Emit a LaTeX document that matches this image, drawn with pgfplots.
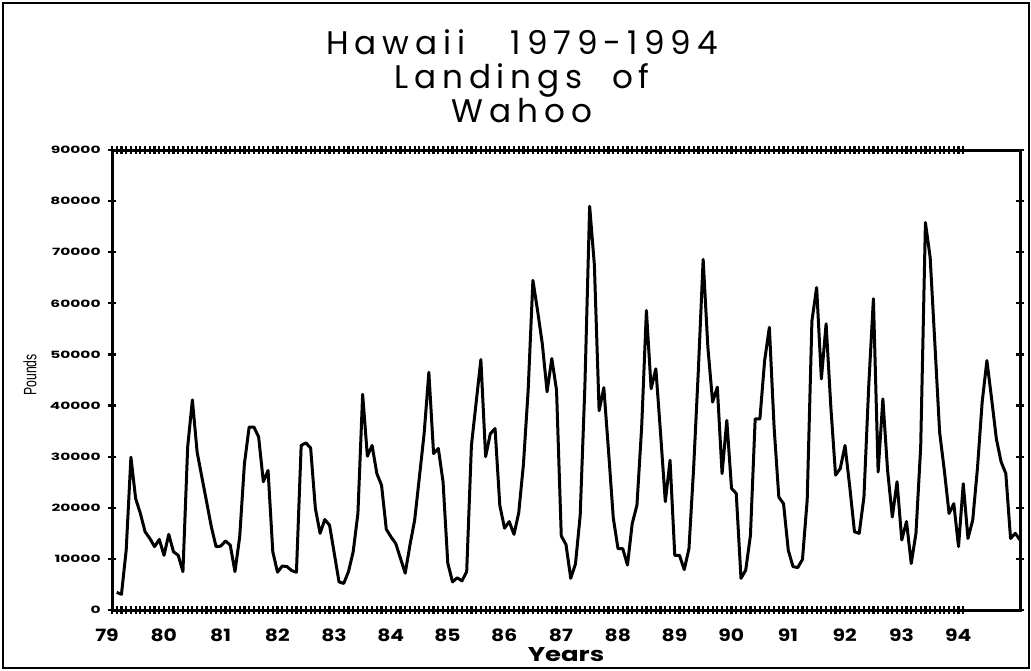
\documentclass[border=0pt]{standalone}
\usepackage{fontspec}
\setmainfont{Poppins}
\newfontfamily\labfont{Liberation Sans}
\newfontfamily\titfont{Poppins}[LetterSpace=18]
\usepackage{graphicx}
\usepackage{pgfplots}
\pgfplotsset{compat=1.18}
\newcommand\yl[1]{\scalebox{1.55}[1]{\fontsize{5}{5}\selectfont\bfseries #1}}
\newcommand\xl[1]{\scalebox{1.2}[1]{\fontsize{8.5}{8.5}\selectfont\bfseries #1}}
\begin{document}
\begin{tikzpicture}
\useasboundingbox (-56bp,-30.5bp) rectangle (459.5bp,305bp);
\draw[line width=1bp] (-54.5bp,-29bp) rectangle (458.5bp,303.5bp);
\begin{axis}[
  scale only axis, width=454bp, height=230bp,
  xmin=0, xmax=192, ymin=0, ymax=90000,
  scaled y ticks=false,
  xtick={0,12,...,180},
  xticklabels={\xl{79},\xl{80},\xl{81},\xl{82},\xl{83},\xl{84},\xl{85},\xl{86},\xl{87},\xl{88},\xl{89},\xl{90},\xl{91},\xl{92},\xl{93},\xl{94}},
  minor x tick num=11,
  ytick={0,10000,...,90000},
  yticklabels={\yl{0},\yl{10000},\yl{20000},\yl{30000},\yl{40000},\yl{50000},\yl{60000},\yl{70000},\yl{80000},\yl{90000}},
  axis line style={line width=1.5bp},
  tick align=center, major tick length=4bp, minor tick length=4bp,
  every tick/.style={black, line width=1.1bp},
  xticklabel style={anchor=center, inner sep=0pt, yshift=-10.5bp, xshift=-2.5bp},
  yticklabel style={anchor=east, inner sep=0pt, xshift=-3.5bp},
  xlabel={\scalebox{1.3}[1]{\fontsize{10}{10}\selectfont\bfseries Years}},
  every axis x label/.style={at={(rel axis cs:0.5,0)}, anchor=center, yshift=-22.5bp},
  ylabel={\scalebox{0.68}[1]{\labfont\fontsize{9}{9}\selectfont Pounds}},
  every axis y label/.style={at={(axis description cs:-0.0903,0.511)}, anchor=center, rotate=90},
  title={Hawaii\hspace{1.4em}1979-1994\\Landings\hspace{0.9em}of\\Wahoo},
  title style={at={(rel axis cs:0.4515,1)}, anchor=north, yshift=54.5bp, align=center, font=\titfont\fontsize{16.4}{17.2}\selectfont, inner sep=0pt},
]
\addplot[black, line width=1.5bp, line join=round] coordinates {
(1,3450)(2,3060)(3,11700)(4,29900)(5,21800)(6,18900)(7,15300)(8,14000)(9,12400)(10,13800)(11,10700)(12,14800)
(13,11400)(14,10700)(15,7500)(16,31900)(17,41100)(18,30900)(19,26000)(20,21200)(21,16300)(22,12400)(23,12500)(24,13500)
(25,12700)(26,7500)(27,14300)(28,28600)(29,35800)(30,35800)(31,33900)(32,25100)(33,27300)(34,11400)(35,7400)(36,8600)
(37,8500)(38,7700)(39,7400)(40,32200)(41,32700)(42,31700)(43,19900)(44,15000)(45,17700)(46,16600)(47,11100)(48,5500)
(49,5200)(50,7500)(51,11400)(52,18900)(53,42200)(54,30100)(55,32200)(56,26700)(57,24400)(58,15800)(59,14300)(60,13000)
(61,10100)(62,7200)(63,12700)(64,17600)(65,26000)(66,34500)(67,46500)(68,30600)(69,31600)(70,25100)(71,9200)(72,5500)
(73,6300)(74,5700)(75,7500)(76,32200)(77,40600)(78,49000)(79,30000)(80,34500)(81,35500)(82,20500)(83,16000)(84,17300)
(85,14800)(86,19000)(87,28500)(88,43000)(89,64500)(90,58500)(91,52000)(92,42700)(93,49200)(94,43000)(95,14500)(96,12800)
(97,6200)(98,9000)(99,18500)(100,44000)(101,79000)(102,67500)(103,39000)(104,43500)(105,31000)(106,18000)(107,12000)(108,12000)
(109,8800)(110,16900)(111,20500)(112,35800)(113,58600)(114,43300)(115,47200)(116,34500)(117,21200)(118,29300)(119,10700)(120,10700)
(121,7900)(122,12000)(123,28000)(124,47200)(125,68600)(126,51400)(127,40700)(128,43600)(129,26700)(130,37100)(131,23800)(132,22800)
(133,6200)(134,7800)(135,14600)(136,37400)(137,37400)(138,48800)(139,55300)(140,35800)(141,22100)(142,20800)(143,11700)(144,8500)
(145,8300)(146,9900)(147,21500)(148,56600)(149,63100)(150,45200)(151,56000)(152,39700)(153,26400)(154,27700)(155,32200)(156,24100)
(157,15300)(158,15000)(159,22100)(160,43600)(161,60900)(162,27000)(163,41300)(164,27300)(165,18200)(166,25100)(167,13700)(168,17300)
(169,9100)(170,15000)(171,31900)(172,75800)(173,69000)(174,52100)(175,34800)(176,27300)(177,18900)(178,20800)(179,12400)(180,24700)
(181,14000)(182,17600)(183,27700)(184,40700)(185,48800)(186,41300)(187,33500)(188,29000)(189,26700)(190,14000)(191,15000)(192,13700)
};
\end{axis}
\end{tikzpicture}
\end{document}
